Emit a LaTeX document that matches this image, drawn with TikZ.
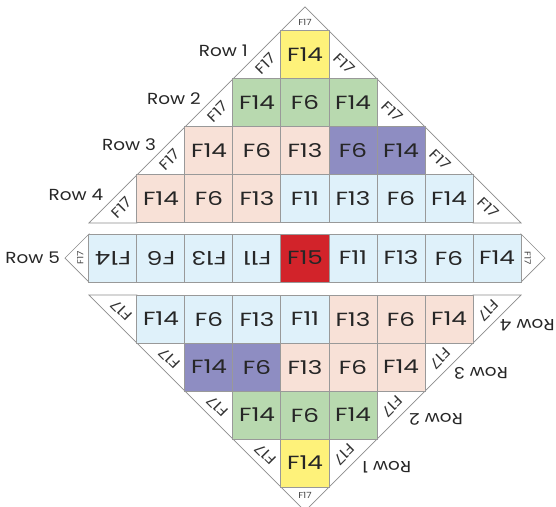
\documentclass[tikz,border=0pt]{standalone}
\usepackage{fontspec}
\setmainfont{Poppins}[FakeStretch=1.15]
\newfontfamily\cellfont{Poppins}[FakeStretch=1.3]
\usepackage{tikz}
\usetikzlibrary{shapes}

\definecolor{cellyellow}{HTML}{FEF27A}
\definecolor{cellgreen}{HTML}{B8D9AF}
\definecolor{cellpeach}{HTML}{F8E1D7}
\definecolor{cellpurple}{HTML}{8E8DC2}
\definecolor{cellblue}{HTML}{DFF1FA}
\definecolor{cellred}{HTML}{D2232A}

\begin{document}
\begin{tikzpicture}
[x=48pt, y=48pt,
cell/.style        = {rectangle, draw=black!40, line width=1pt, minimum size=48pt, inner sep=0pt, text=black!85, font=\cellfont\fontsize{19}{19}\selectfont},
yellow_cell/.style = {cell, fill=cellyellow},
green_cell/.style  = {cell, fill=cellgreen},
peach_cell/.style  = {cell, fill=cellpeach},
purple_cell/.style = {cell, fill=cellpurple},
blue_cell/.style   = {cell, fill=cellblue},
red_cell/.style    = {cell, fill=cellred},
corner_tri/.style  = {draw=black!45, line width=0.7pt, fill=white},
f17/.style         = {inner sep=0pt, text=black!80, font=\fontsize{14.5}{14.5}\selectfont},
tip_text/.style    = {inner sep=0pt, text=black!75, font=\fontsize{8.5}{8.5}\selectfont},
row_label/.style   = {inner sep=0pt, text=black!85, font=\fontsize{16}{16}\selectfont}
]
\useasboundingbox (-6.354,-5.167) rectangle (5.229,5.375);

% top corners
\path [corner_tri] (-0.5,4.73) -- (0,5.23) -- (0.5,4.73) -- cycle;
\node [tip_text] (top_tip) at (0,4.9) {F17};
\path [corner_tri] (-0.5,4.73) -- (-0.5,3.73) -- (-1.5,3.73) -- cycle;
\path [corner_tri] (-1.5,3.73) -- (-1.5,2.73) -- (-2.5,2.73) -- cycle;
\path [corner_tri] (-2.5,2.73) -- (-2.5,1.73) -- (-3.5,1.73) -- cycle;
\path [corner_tri] (-3.5,1.73) -- (-3.5,0.73) -- (-4.5,0.73) -- cycle;
\path [corner_tri] (0.5,4.73) -- (0.5,3.73) -- (1.5,3.73) -- cycle;
\path [corner_tri] (1.5,3.73) -- (1.5,2.73) -- (2.5,2.73) -- cycle;
\path [corner_tri] (2.5,2.73) -- (2.5,1.73) -- (3.5,1.73) -- cycle;
\path [corner_tri] (3.5,1.73) -- (3.5,0.73) -- (4.5,0.73) -- cycle;
\node [f17, rotate=45] (top_l1) at (-0.82,4.05) {F17};
\node [f17, rotate=45] (top_l2) at (-1.82,3.05) {F17};
\node [f17, rotate=45] (top_l3) at (-2.82,2.05) {F17};
\node [f17, rotate=45] (top_l4) at (-3.82,1.05) {F17};
\node [f17, rotate=-45] (top_r1) at (0.82,4.05) {F17};
\node [f17, rotate=-45] (top_r2) at (1.82,3.05) {F17};
\node [f17, rotate=-45] (top_r3) at (2.82,2.05) {F17};
\node [f17, rotate=-45] (top_r4) at (3.82,1.05) {F17};

% top rows
\node [yellow_cell] (t1_1) at (0,4.23) {F14};
\node [green_cell] (t2_1) at (-1,3.23) {F14};
\node [green_cell] (t2_2) at (0,3.23) {F6};
\node [green_cell] (t2_3) at (1,3.23) {F14};
\node [peach_cell] (t3_1) at (-2,2.23) {F14};
\node [peach_cell] (t3_2) at (-1,2.23) {F6};
\node [peach_cell] (t3_3) at (0,2.23) {F13};
\node [purple_cell] (t3_4) at (1,2.23) {F6};
\node [purple_cell] (t3_5) at (2,2.23) {F14};
\node [peach_cell] (t4_1) at (-3,1.23) {F14};
\node [peach_cell] (t4_2) at (-2,1.23) {F6};
\node [peach_cell] (t4_3) at (-1,1.23) {F13};
\node [blue_cell] (t4_4) at (0,1.23) {F11};
\node [blue_cell] (t4_5) at (1,1.23) {F13};
\node [blue_cell] (t4_6) at (2,1.23) {F6};
\node [blue_cell] (t4_7) at (3,1.23) {F14};

\node [row_label, anchor=east] (top_row1) at (-1.19,4.31) {Row 1};
\node [row_label, anchor=east] (top_row2) at (-2.17,3.31) {Row 2};
\node [row_label, anchor=east] (top_row3) at (-3.1,2.36) {Row 3};
\node [row_label, anchor=east] (top_row4) at (-4.2,1.31) {Row 4};

% row 5
\path [corner_tri] (-4.5,0.5) -- (-5,0) -- (-4.5,-0.5) -- cycle;
\path [corner_tri] (4.5,0.5) -- (5,0) -- (4.5,-0.5) -- cycle;
\node [tip_text, rotate=90] (mid_l) at (-4.68,0) {F17};
\node [tip_text, rotate=-90] (mid_r) at (4.64,0) {F17};
\node [blue_cell, rotate=180] (r5_1) at (-4,0) {F14};
\node [blue_cell, rotate=180] (r5_2) at (-3,0) {F6};
\node [blue_cell, rotate=180] (r5_3) at (-2,0) {F13};
\node [blue_cell, rotate=180] (r5_4) at (-1,0) {F11};
\node [red_cell] (r5_5) at (0,0) {F15};
\node [blue_cell] (r5_6) at (1,0) {F11};
\node [blue_cell] (r5_7) at (2,0) {F13};
\node [blue_cell] (r5_8) at (3,0) {F6};
\node [blue_cell] (r5_9) at (4,0) {F14};
\node [row_label, anchor=east] (mid_row5) at (-5.1,0) {Row 5};

\begin{scope}[yshift=-2pt]
% bottom corners
\path [corner_tri] (-0.5,-4.73) -- (0,-5.23) -- (0.5,-4.73) -- cycle;
\node [tip_text] (bot_tip) at (0,-4.9) {F17};
\path [corner_tri] (-0.5,-4.73) -- (-0.5,-3.73) -- (-1.5,-3.73) -- cycle;
\path [corner_tri] (-1.5,-3.73) -- (-1.5,-2.73) -- (-2.5,-2.73) -- cycle;
\path [corner_tri] (-2.5,-2.73) -- (-2.5,-1.73) -- (-3.5,-1.73) -- cycle;
\path [corner_tri] (-3.5,-1.73) -- (-3.5,-0.73) -- (-4.5,-0.73) -- cycle;
\path [corner_tri] (0.5,-4.73) -- (0.5,-3.73) -- (1.5,-3.73) -- cycle;
\path [corner_tri] (1.5,-3.73) -- (1.5,-2.73) -- (2.5,-2.73) -- cycle;
\path [corner_tri] (2.5,-2.73) -- (2.5,-1.73) -- (3.5,-1.73) -- cycle;
\path [corner_tri] (3.5,-1.73) -- (3.5,-0.73) -- (4.5,-0.73) -- cycle;
\node [f17, rotate=135] (bot_l1) at (-0.82,-4.05) {F17};
\node [f17, rotate=135] (bot_l2) at (-1.82,-3.05) {F17};
\node [f17, rotate=135] (bot_l3) at (-2.82,-2.05) {F17};
\node [f17, rotate=135] (bot_l4) at (-3.82,-1.05) {F17};
\node [f17, rotate=225] (bot_r1) at (0.82,-4.05) {F17};
\node [f17, rotate=225] (bot_r2) at (1.82,-3.05) {F17};
\node [f17, rotate=225] (bot_r3) at (2.82,-2.05) {F17};
\node [f17, rotate=225] (bot_r4) at (3.82,-1.05) {F17};

% bottom rows
\node [blue_cell] (b4_1) at (-3,-1.23) {F14};
\node [blue_cell] (b4_2) at (-2,-1.23) {F6};
\node [blue_cell] (b4_3) at (-1,-1.23) {F13};
\node [blue_cell] (b4_4) at (0,-1.23) {F11};
\node [peach_cell] (b4_5) at (1,-1.23) {F13};
\node [peach_cell] (b4_6) at (2,-1.23) {F6};
\node [peach_cell] (b4_7) at (3,-1.23) {F14};
\node [purple_cell] (b3_1) at (-2,-2.23) {F14};
\node [purple_cell] (b3_2) at (-1,-2.23) {F6};
\node [peach_cell] (b3_3) at (0,-2.23) {F13};
\node [peach_cell] (b3_4) at (1,-2.23) {F6};
\node [peach_cell] (b3_5) at (2,-2.23) {F14};
\node [green_cell] (b2_1) at (-1,-3.23) {F14};
\node [green_cell] (b2_2) at (0,-3.23) {F6};
\node [green_cell] (b2_3) at (1,-3.23) {F14};
\node [yellow_cell] (b1_1) at (0,-4.23) {F14};

\node [row_label, anchor=east, rotate=180] (bot_row1) at (1.19,-4.31) {Row 1};
\node [row_label, anchor=east, rotate=180] (bot_row2) at (2.17,-3.31) {Row 2};
\node [row_label, anchor=east, rotate=180] (bot_row3) at (3.1,-2.36) {Row 3};
\node [row_label, anchor=east, rotate=180] (bot_row4) at (4.06,-1.36) {Row 4};
\end{scope}

\end{tikzpicture}
\end{document}
